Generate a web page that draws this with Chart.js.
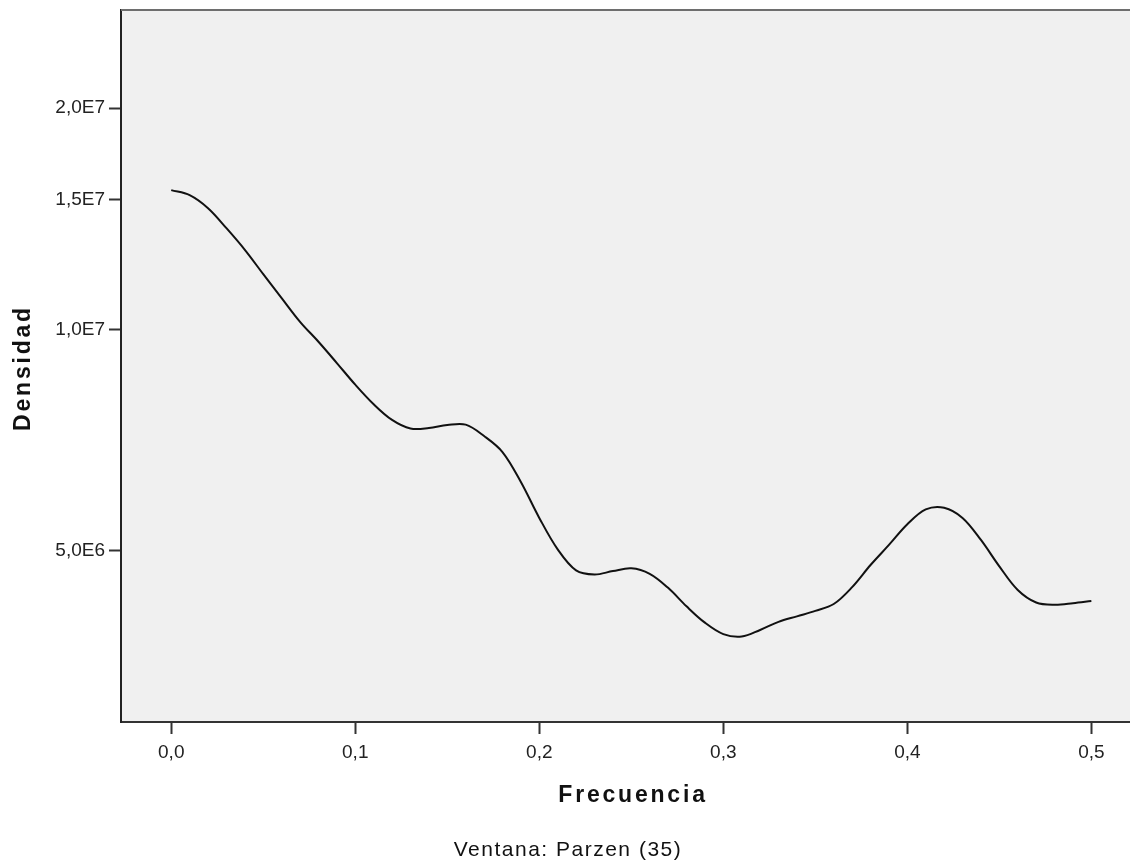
<!DOCTYPE html>
<html>
<head>
<meta charset="utf-8">
<script src="https://cdn.jsdelivr.net/npm/chart.js@4.4.0/dist/chart.umd.min.js"></script>
<style>
    html, body { margin: 0; padding: 0; background: #fff; }
</style>
</head>
<body>
<canvas id="chart" width="1130" height="865"></canvas>
<script>
// Spectral density (Parzen window, 35)
const frequencies = [
    0.00, 0.01, 0.02, 0.03, 0.04, 0.05, 0.06, 0.07, 0.08, 0.09,
    0.10, 0.11, 0.12, 0.13, 0.14, 0.15, 0.16, 0.17, 0.18, 0.19,
    0.20, 0.21, 0.22, 0.23, 0.24, 0.25, 0.26, 0.27, 0.28, 0.29,
    0.30, 0.31, 0.32, 0.33, 0.34, 0.35, 0.36, 0.37, 0.38, 0.39,
    0.40, 0.41, 0.42, 0.43, 0.44, 0.45, 0.46, 0.47, 0.48, 0.49,
    0.50
];
const density = [
    1.547e7, 1.523e7, 1.462e7, 1.373e7, 1.283e7, 1.189e7, 1.103e7, 1.024e7, 9.62e6, 9.00e6,
    8.41e6, 7.91e6, 7.53e6, 7.33e6, 7.34e6, 7.41e6, 7.42e6, 7.16e6, 6.81e6, 6.20e6,
    5.54e6, 5.02e6, 4.70e6, 4.64e6, 4.69e6, 4.73e6, 4.65e6, 4.45e6, 4.20e6, 3.99e6,
    3.85e6, 3.82e6, 3.90e6, 4.00e6, 4.07e6, 4.14e6, 4.23e6, 4.46e6, 4.78e6, 5.09e6,
    5.43e6, 5.69e6, 5.72e6, 5.54e6, 5.17e6, 4.76e6, 4.42e6, 4.25e6, 4.22e6, 4.24e6,
    4.27e6
];

const xTickValues = [0, 0.1, 0.2, 0.3, 0.4, 0.5];
const xTickLabels = ['0,0', '0,1', '0,2', '0,3', '0,4', '0,5'];
const yTickValues = [5e6, 1e7, 1.5e7, 2e7];
const yTickLabels = ['5,0E6', '1,0E7', '1,5E7', '2,0E7'];

const xMin = -0.0273, xMax = 0.521;
const yMin = 2.923e6, yMax = 2.72e7;

const FONT = '"Liberation Sans", Arial, sans-serif';

// plot background, top frame line and the text around the axes
const spssFrame = {
    id: 'spssFrame',
    beforeDraw(chart) {
        const { ctx, chartArea: a } = chart;
        ctx.save();
        ctx.fillStyle = '#fff';
        ctx.fillRect(0, 0, chart.width, chart.height);
        ctx.fillStyle = '#f0f0f0';
        ctx.fillRect(a.left, a.top, a.right - a.left, a.bottom - a.top);
        ctx.restore();
    },
    afterDraw(chart) {
        const { ctx, chartArea: a } = chart;
        ctx.save();
        ctx.strokeStyle = '#6e6e6e';
        ctx.lineWidth = 2;
        ctx.beginPath();
        ctx.moveTo(a.left, a.top);
        ctx.lineTo(a.right, a.top);
        ctx.stroke();

        ctx.fillStyle = '#111';
        ctx.textAlign = 'center';
        ctx.textBaseline = 'middle';
        ctx.font = 'bold 23px ' + FONT;
        ctx.letterSpacing = '2.8px';
        ctx.fillText('Frecuencia', 633, 796);

        ctx.save();
        ctx.translate(24, 368);
        ctx.rotate(-Math.PI / 2);
        ctx.fillText('Densidad', 0, 0);
        ctx.restore();

        ctx.font = '21px ' + FONT;
        ctx.letterSpacing = '1.5px';
        ctx.fillText('Ventana: Parzen (35)', 568, 850);
        ctx.restore();
    }
};

function init() {
    const ctx = document.getElementById('chart').getContext('2d');
    new Chart(ctx, {
        type: 'line',
        data: {
            datasets: [{
                data: frequencies.map((f, i) => ({ x: f, y: density[i] })),
                borderColor: '#111',
                borderWidth: 2,
                pointRadius: 0,
                fill: false,
                tension: 0.35
            }]
        },
        options: {
            responsive: false,
            animation: false,
            devicePixelRatio: 1,
            layout: { padding: { top: 10, left: 0, right: 0, bottom: 0 } },
            plugins: {
                legend: { display: false },
                tooltip: { enabled: false }
            },
            scales: {
                x: {
                    type: 'linear',
                    min: xMin,
                    max: xMax,
                    afterBuildTicks: (scale) => {
                        scale.ticks = xTickValues.map(v => ({ value: v }));
                    },
                    afterFit: (scale) => {
                        scale.height = 143;
                        scale.paddingLeft = 0;
                        scale.paddingRight = 0;
                    },
                    grid: {
                        drawOnChartArea: false,
                        drawTicks: true,
                        tickLength: 12,
                        tickWidth: 2,
                        tickColor: '#333'
                    },
                    border: { display: true, color: '#333', width: 2 },
                    ticks: {
                        autoSkip: false,
                        maxRotation: 0,
                        padding: 7,
                        color: '#222',
                        font: { family: FONT, size: 19 },
                        callback: (v) => xTickLabels[xTickValues.indexOf(v)]
                    }
                },
                y: {
                    type: 'logarithmic',
                    min: yMin,
                    max: yMax,
                    afterBuildTicks: (scale) => {
                        scale.ticks = yTickValues.map(v => ({ value: v }));
                    },
                    afterFit: (scale) => {
                        scale.width = 121;
                        scale.paddingTop = 0;
                        scale.paddingBottom = 0;
                    },
                    grid: {
                        drawOnChartArea: false,
                        drawTicks: true,
                        tickLength: 12,
                        tickWidth: 2,
                        tickColor: '#333'
                    },
                    border: { display: true, color: '#222', width: 2 },
                    ticks: {
                        autoSkip: false,
                        padding: 4,
                        color: '#222',
                        font: { family: FONT, size: 19 },
                        callback: (v) => yTickLabels[yTickValues.indexOf(v)]
                    }
                }
            }
        },
        plugins: [spssFrame]
    });
}

if (document.readyState === 'loading') {
    document.addEventListener('DOMContentLoaded', init);
} else {
    init();
}
</script>
</body>
</html>
